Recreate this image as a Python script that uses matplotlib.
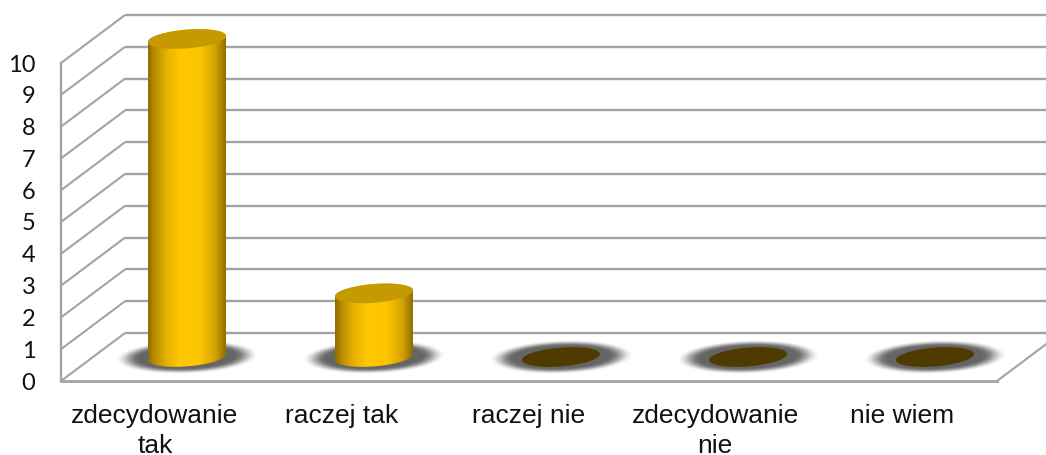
import numpy as np
import matplotlib
matplotlib.use("Agg")
import matplotlib.pyplot as plt
from matplotlib.colors import LinearSegmentedColormap
from matplotlib.patches import PathPatch
from matplotlib.path import Path

categories = ["zdecydowanie\ntak", "raczej tak", "raczej nie", "zdecydowanie\nnie", "nie wiem"]
values = [10, 2, 0, 0, 0]
y_ticks = list(range(0, 11))

W, H = 1046, 455
X0, XSTEP = 155.0, 187.0      # px of first category on the front plane, px per category
Y0, YSTEP = 381.0, 31.8       # px of value 0 on the front plane, px per unit
DX, DY = 64.0, 48.0           # depth offset of back wall, px
GRID = "#a3a3a3"

fig = plt.figure(figsize=(W / 100, H / 100), dpi=100)
ax = fig.add_axes([0, 0, 1, 1])
ax.set_xlim((0 - X0) / XSTEP, (W - X0) / XSTEP)
ax.set_ylim((Y0 - H) / YSTEP, Y0 / YSTEP)
ax.axis("off")

ux, uy = 1 / XSTEP, 1 / YSTEP   # data units per pixel
depth_x, depth_y = DX * ux, DY * uy
xl, xr = (61 - X0) * ux, (997 - X0) * ux

# walls and floor
for v in y_ticks:
    ax.plot([xl, xl + depth_x], [v, v + depth_y], color=GRID, lw=1.5, zorder=1, solid_capstyle="butt")
    ax.plot([xl + depth_x, ax.get_xlim()[1]], [v + depth_y] * 2, color=GRID, lw=1.7, zorder=1, solid_capstyle="butt")
ax.plot([xl, xl], [0, y_ticks[-1]], color=GRID, lw=1.7, zorder=1)
ax.plot([xl, xr], [0, 0], color=GRID, lw=2.0, zorder=1)
ax.plot([xr, xr + depth_x], [0, depth_y], color=GRID, lw=1.5, zorder=1)

# cylinders sit halfway into the depth
off_x, off_y = depth_x / 2, depth_y / 2
a_px, b_px, shear_px = 39.0, 9.4, 3.0
cyl_cmap = LinearSegmentedColormap.from_list(
    "cyl", [(0, "#8f6e00"), (0.08, "#b68b00"), (0.25, "#e8b400"), (0.42, "#ffc800"),
            (0.66, "#fdc500"), (0.86, "#d5a500"), (1, "#8f6e00")])


def ellipse(cx, cy, n=120, ts=None):
    t = np.linspace(0, 2 * np.pi, n) if ts is None else ts
    ex = cx + a_px * ux * np.cos(t)
    ey = cy + (b_px * np.sin(t) + shear_px * np.cos(t)) * uy
    return ex, ey


gx, gy = np.meshgrid(np.linspace(-1, 1, 300), np.linspace(-1, 1, 120))
skew = gy - 0.14 * gx
rad = np.sqrt(gx ** 2 + skew ** 2)
alpha = np.clip((1 - rad) / 0.34, 0, 1)
alpha = alpha * alpha * (3 - 2 * alpha) * 0.9
shadow = np.zeros(gx.shape + (4,))
shadow[..., :3] = 0.33
shadow[..., 3] = alpha

for i, v in enumerate(values):
    cx, cy = i + off_x, off_y
    sw, sh = 72 * ux, 17 * uy
    ax.imshow(shadow, extent=[cx - sw, cx + sw, cy - sh, cy + sh], origin="lower",
              aspect="auto", zorder=2, interpolation="bilinear")
    if v > 0:
        tb = np.linspace(np.pi, 2 * np.pi, 60)      # lower half of base
        tt = np.linspace(0, np.pi, 60)              # back half of top
        bx, by = ellipse(cx, cy, ts=tb)
        tx, ty = ellipse(cx, cy + v, ts=tt)
        verts = np.column_stack([np.r_[bx, tx], np.r_[by, ty]])
        patch = PathPatch(Path(np.r_[verts, verts[:1]]), fc="none", ec="none", zorder=3)
        ax.add_patch(patch)
        grad = np.linspace(0, 1, 256)[None, :]
        im = ax.imshow(grad, extent=[cx - a_px * ux, cx + a_px * ux, cy - 14 * uy, cy + v + 14 * uy],
                       aspect="auto", cmap=cyl_cmap, zorder=3, interpolation="bilinear")
        im.set_clip_path(patch)
        ex, ey = ellipse(cx, cy + v)
        ax.fill(ex, ey, color="#c49a00", lw=0, zorder=4)
    else:
        ex, ey = ellipse(cx, cy)
        ax.fill(ex, ey, color="#4f3a00", lw=0, zorder=4)

ax.set_xlim((0 - X0) / XSTEP, (W - X0) / XSTEP)
ax.set_ylim((Y0 - H) / YSTEP, Y0 / YSTEP)

for v in y_ticks:
    ax.text(35.5 * ux + ax.get_xlim()[0], v, str(v), ha="right", va="center_baseline",
            fontsize=17, family="Lato", color="#111111", zorder=5)
for i, c in enumerate(categories):
    for k, line in enumerate(c.split("\n")):
        ax.text(i * 0.9987, -(42 + 30 * k) * uy, line, ha="center", va="baseline", fontsize=19,
                family="Liberation Sans", color="#111111", zorder=5)

fig.savefig("out.png", dpi=100)
